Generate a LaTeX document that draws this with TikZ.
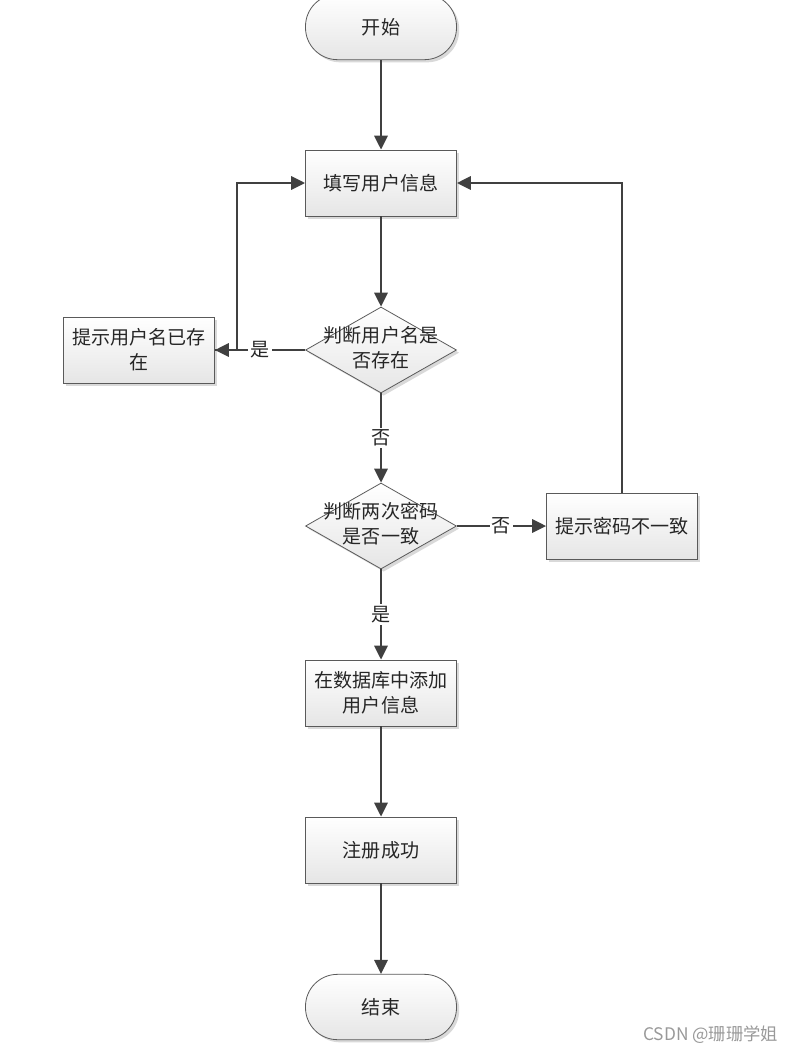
\documentclass[tikz,border=0pt]{standalone}
\usepackage{fontspec}
\newfontfamily\cjk{Noto Sans CJK SC}
\usetikzlibrary{arrows.meta,shapes.geometric,shadows}
\definecolor{linec}{HTML}{404040}
\definecolor{borderc}{HTML}{5A5A5A}
\begin{document}
\begin{tikzpicture}[x=0.75pt,y=-0.75pt,
  every node/.style={font=\cjk\fontsize{14.3}{18.75}\selectfont, text=black!85},
  boxbase/.style={draw=borderc, line width=0.6pt, top color=white, bottom color=black!10,
    drop shadow={shadow xshift=2pt, shadow yshift=-2pt, fill=black!25, opacity=0.6}},
  procbox/.style={boxbase, rectangle, minimum width=113.25pt, minimum height=49.5pt, inner sep=0pt, align=center},
  termbox/.style={boxbase, rectangle, rounded corners=24pt, minimum width=113.25pt, minimum height=49pt, inner sep=0pt},
  decbox/.style={boxbase, diamond, minimum width=113.25pt, minimum height=64.5pt, inner sep=0pt},
  dtext/.style={align=center, inner sep=0pt},
  conn/.style={draw=linec, line width=1.7pt, -{Triangle[length=10.5pt,width=10pt]}},
  lbl/.style={fill=white, inner sep=1.5pt}
]
\useasboundingbox (0,0) rectangle (797,1053);

\node[termbox] (start) at (381,27) {开始};
\node[procbox] (fill) at (381,183) {填写用户信息};
\node[decbox] (d1) at (381,350) {};
\node[dtext] (d1t) at (381,348) {判断用户名是\\否存在};
\node[procbox] (lbox) at (139,350) {提示用户名已存\\在};
\node[decbox] (d2) at (381,526) {};
\node[dtext] (d2t) at (381,524) {判断两次密码\\是否一致};
\node[procbox] (rbox) at (622,526) {提示密码不一致};
\node[procbox] (db) at (381,693) {在数据库中添加\\用户信息};
\node[procbox] (ok) at (381,850) {注册成功};
\node[termbox] (stop) at (381,1007) {结束};

\draw[conn] (start) -- (fill);
\draw[conn] (fill) -- (d1);
\draw[conn] (d1.west) -- node[lbl] (l1) {是} (lbox.east);
\draw[conn] (lbox.east) -- ++(22,0) |- (fill.west);
\draw[conn] (d1.south) -- node[lbl] (l2) {否} (d2.north);
\draw[conn] (d2.east) -- node[lbl] (l3) {否} (rbox.west);
\draw[conn] (rbox.north) |- (fill.east);
\draw[conn] (d2.south) -- node[lbl] (l4) {是} (db.north);
\draw[conn] (db) -- (ok);
\draw[conn] (ok) -- (stop);

\node[font=\cjk\fontsize{13}{15}\selectfont, text=black!40, anchor=east] (wm) at (783,1035) {CSDN @珊珊学姐};
\end{tikzpicture}
\end{document}
